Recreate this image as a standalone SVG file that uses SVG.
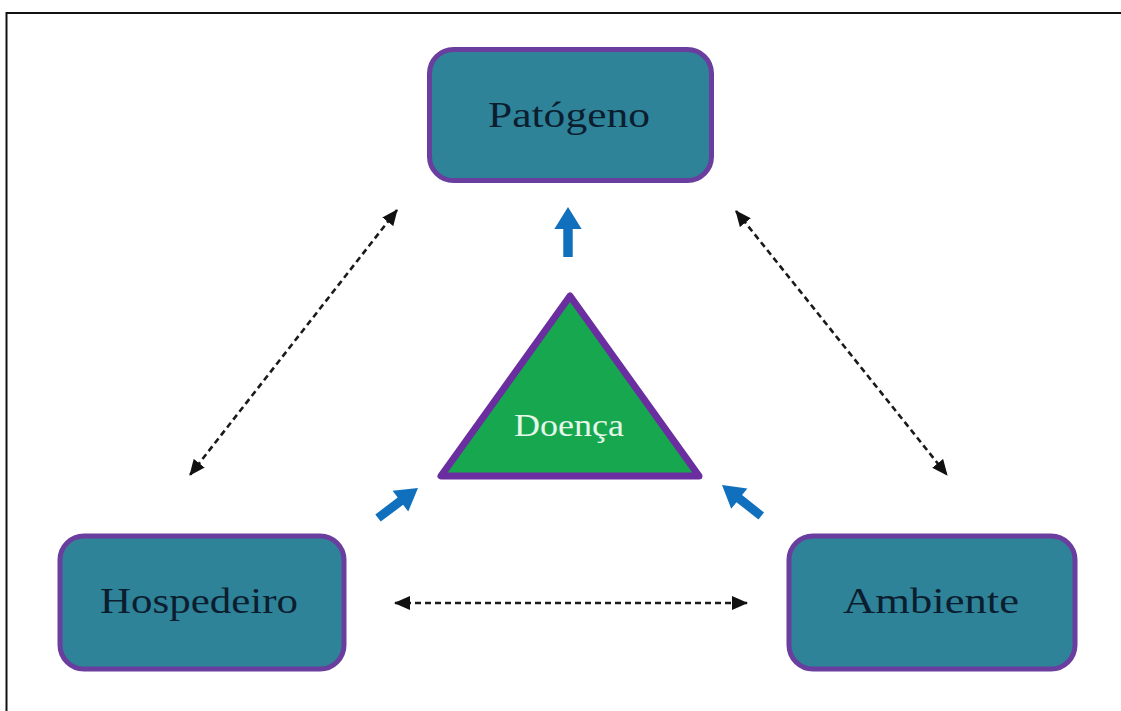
<svg xmlns="http://www.w3.org/2000/svg" width="1121" height="711" viewBox="0 0 1121 711">
  <style>
    .box { fill: #2E8399; stroke: #6A3E9E; stroke-width: 5; }
    .label { font-family: "Liberation Serif", "Times New Roman", serif; font-size: 36px; fill: #0B1E30; text-anchor: middle; }
    .dash { fill: none; stroke: #1a1a1a; stroke-width: 2.6; stroke-dasharray: 6 4; marker-start: url(#tip); marker-end: url(#tip); }
    .push { fill: #1070BE; }
  </style>
  <defs>
    <marker id="tip" viewBox="0 0 16 14" refX="15" refY="7" markerWidth="16" markerHeight="14" markerUnits="userSpaceOnUse" orient="auto-start-reverse">
      <path d="M0,0 L16,7 L0,14 Z" fill="#111"/>
    </marker>
    <path id="push-arrow" d="M0,0 L-22,-13 L-22,-4.5 L-50,-4.5 L-50,4.5 L-22,4.5 L-22,13 Z"/>
  </defs>

  <rect width="1121" height="711" fill="#fff"/>
  <!-- frame: top and left rules -->
  <path d="M6.5,711 L6.5,13 L1121,13" fill="none" stroke="#111" stroke-width="2"/>

  <g id="connectors">
    <line class="dash" x1="397" y1="210" x2="190" y2="475"/>
    <line class="dash" x1="736" y1="211" x2="947" y2="475"/>
    <line class="dash" x1="395" y1="603" x2="747" y2="603"/>
    <!-- blue arrows pointing at the triangle's sides -->
    <use href="#push-arrow" class="push" transform="translate(568,207) rotate(-90) scale(1,1.05)"/>
    <use href="#push-arrow" class="push" transform="translate(418,488) rotate(-36.9)"/>
    <use href="#push-arrow" class="push" transform="translate(722,485) rotate(-141.7)"/>
  </g>

  <g id="patogeno">
    <rect class="box" x="429.5" y="49.5" width="282" height="131" rx="24"/>
    <text class="label" x="569" y="127" textLength="162" lengthAdjust="spacingAndGlyphs">Patógeno</text>
  </g>

  <g id="hospedeiro">
    <rect class="box" x="60" y="536" width="284" height="133" rx="24"/>
    <text class="label" x="199" y="613" textLength="198" lengthAdjust="spacingAndGlyphs">Hospedeiro</text>
  </g>

  <g id="ambiente">
    <rect class="box" x="789" y="536" width="286" height="133" rx="24"/>
    <text class="label" x="931" y="613" textLength="176" lengthAdjust="spacingAndGlyphs">Ambiente</text>
  </g>

  <g id="doenca">
    <path d="M570,296 L441,476 L699,476 Z" fill="#17A84F" stroke="#6A2EA0" stroke-width="7" stroke-linejoin="round"/>
    <text x="569" y="436" font-family="'Liberation Serif', 'Times New Roman', serif" font-size="32" fill="#E4F7EA" text-anchor="middle" textLength="110" lengthAdjust="spacingAndGlyphs">Doença</text>
  </g>
</svg>
